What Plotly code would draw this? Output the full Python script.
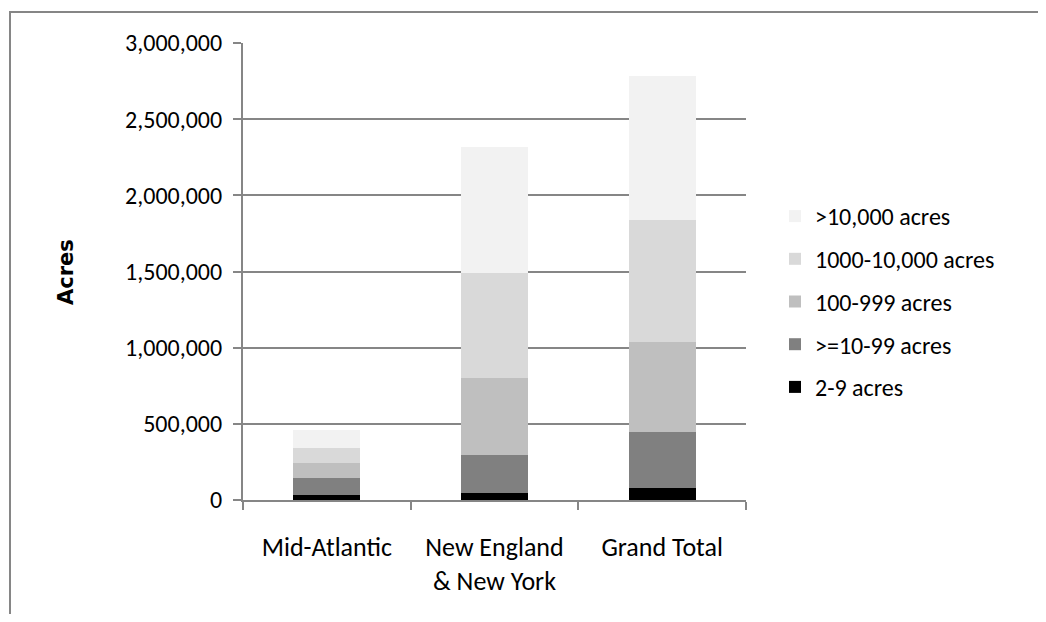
import plotly.graph_objects as go

categories = ["Mid-Atlantic", "New England<br>& New York", "Grand Total"]
series_names = ["2-9 acres", ">=10-99 acres", "100-999 acres", "1000-10,000 acres", ">10,000 acres"]
acres_2_9 = [30000, 45000, 82000]
acres_10_99 = [112000, 250000, 366000]
acres_100_999 = [100000, 505000, 592000]
acres_1000_10000 = [99000, 690000, 798000]
acres_10000_plus = [121000, 828000, 946000]
series_values = [acres_2_9, acres_10_99, acres_100_999, acres_1000_10000, acres_10000_plus]
colors = ["#000000", "#808080", "#bfbfbf", "#d9d9d9", "#f2f2f2"]
y_ticks = [0, 500000, 1000000, 1500000, 2000000, 2500000, 3000000]

font_main = "Carlito, Lato, sans-serif"

fig = go.Figure()
n = len(series_names)
for i, (name, vals, col) in enumerate(zip(series_names, series_values, colors)):
    fig.add_trace(go.Bar(
        x=categories, y=vals, name=name, legendgroup=name, legendrank=n - i,
        marker=dict(color=col, line=dict(width=0)),
    ))

# page is rendered with an 8px body margin; work in page coordinates
OFF = 8
W, H = 1046 - 2 * OFF, 622 - 2 * OFF
L, R, T, B = 243, 746, 43, 500  # plot area in page coordinates


def px(x):
    return (x - L) / (R - L)


def py(y):
    return (B - y) / (B - T)


fig.update_layout(
    width=W, height=H,
    margin=dict(l=L - OFF, r=W - (R - OFF), t=T - OFF, b=H - (B - OFF), pad=0),
    barmode="stack", bargap=0.6,
    paper_bgcolor="white", plot_bgcolor="white",
    font=dict(family=font_main, size=24, color="#000000"),
    showlegend=True,
    legend=dict(
        x=px(775), y=py(194), xanchor="left", yanchor="top",
        traceorder="grouped", tracegroupgap=8.5,
        font=dict(family=font_main, size=24, color="#000000"),
        itemwidth=30, bgcolor="rgba(0,0,0,0)",
    ),
    xaxis=dict(
        showline=True, linecolor="#868686", linewidth=2,
        ticks="outside", tickson="boundaries", ticklen=8, tickwidth=2, tickcolor="#868686",
        showgrid=False, ticklabelstandoff=23,
        tickfont=dict(family=font_main, size=26),
    ),
    yaxis=dict(
        range=[0, 3000000], tickvals=y_ticks, tickformat=",d",
        showline=True, linecolor="#868686", linewidth=2,
        ticks="outside", ticklen=8, tickwidth=2, tickcolor="#868686",
        showgrid=True, gridcolor="#868686", gridwidth=2,
        zeroline=False, ticklabelstandoff=6,
        tickfont=dict(family=font_main, size=24),
    ),
    annotations=[dict(
        text="<b>Acres</b>", xref="paper", yref="paper",
        x=px(66), y=py(272), xanchor="center", yanchor="middle",
        textangle=-90, showarrow=False,
        font=dict(family="'DejaVu Sans', Verdana, sans-serif", size=21, color="#000000"),
    )],
)

# outer chart frame (right and bottom edges lie outside the picture)
fig.add_shape(
    type="rect", xref="paper", yref="paper",
    x0=px(10), x1=px(1080), y0=py(660), y1=py(12),
    line=dict(color="#868686", width=2), fillcolor="rgba(0,0,0,0)", layer="below",
)

fig.write_html("out.html")
